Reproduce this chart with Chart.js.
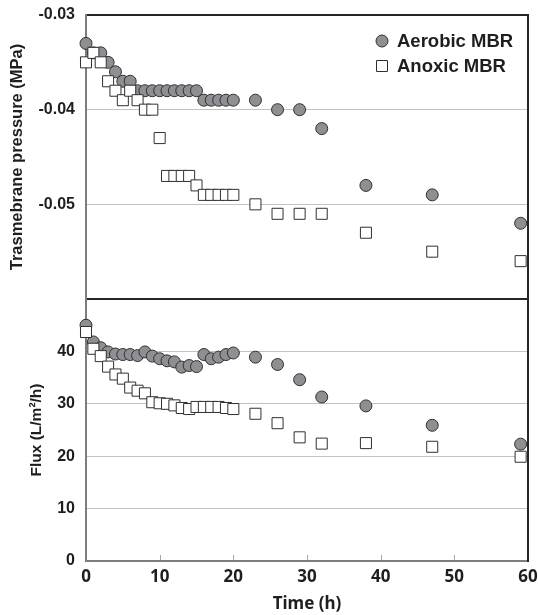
<!DOCTYPE html>
<html>
<head>
<meta charset="utf-8">
<script src="https://cdn.jsdelivr.net/npm/chart.js@4"></script>
<style>
  body { margin: 0; background: #fff; }
  #wrap { position: relative; width: 538px; height: 615px; }
  canvas { position: absolute; left: 0; }
  #tmp-chart { top: 0; }
  #flux-chart { top: 289px; }
</style>
</head>
<body>
<div id="wrap">
  <canvas id="tmp-chart" width="538" height="310"></canvas>
  <canvas id="flux-chart" width="538" height="326"></canvas>
</div>
<script>
const timeHours = [0, 1, 2, 3, 4, 5, 6, 7, 8, 9, 10, 11, 12, 13, 14, 15, 16, 17, 18, 19, 20, 23, 26, 29, 32, 38, 47, 59]

const aerobicTmp = [-0.033, -0.034, -0.034, -0.035, -0.036, -0.037, -0.037, -0.038, -0.038, -0.038,
    -0.038, -0.038, -0.038, -0.038, -0.038, -0.038, -0.039, -0.039, -0.039, -0.039,
    -0.039, -0.039, -0.040, -0.040, -0.042, -0.048, -0.049, -0.052]
const anoxicTmp = [-0.035, -0.034, -0.035, -0.037, -0.038, -0.039, -0.038, -0.039, -0.040, -0.040,
    -0.043, -0.047, -0.047, -0.047, -0.047, -0.048, -0.049, -0.049, -0.049, -0.049,
    -0.049, -0.050, -0.051, -0.051, -0.051, -0.053, -0.055, -0.056]

const aerobicFlux = [45.0, 41.8, 40.7, 39.9, 39.5, 39.4, 39.4, 39.2, 39.9, 39.1,
    38.6, 38.2, 38.0, 37.0, 37.3, 37.1, 39.4, 38.6, 38.9, 39.4,
    39.7, 38.9, 37.5, 34.6, 31.3, 29.6, 25.9, 22.3]
const anoxicFlux = [43.7, 40.5, 39.1, 37.1, 35.6, 34.8, 33.1, 32.5, 32.0, 30.3,
    30.1, 30.0, 29.7, 29.2, 29.0, 29.4, 29.4, 29.4, 29.4, 29.2,
    29.0, 28.1, 26.3, 23.6, 22.4, 22.5, 21.8, 19.9]

const seriesNames = ['Aerobic MBR', 'Anoxic MBR']
const tmpTicks = [-0.06, -0.05, -0.04, -0.03]
const fluxTicks = [0, 10, 20, 30, 40, 50]
const timeTicks = [0, 10, 20, 30, 40, 50, 60]

const gridGray = '#c3c3c3'
const axisGray = '#7d7d7d'
const frameBlack = '#262626'
const textColor = '#1e1e1e'
const clear = 'rgba(0,0,0,0)'

const toPoints = (ys) => timeHours.map((t, i) => ({ x: t, y: ys[i] }))

const aerobicStyle = {
    pointStyle: 'circle', pointRadius: 6, pointHoverRadius: 6,
    pointBackgroundColor: '#8e8e93', pointBorderColor: '#303030', pointBorderWidth: 1,
    showLine: false, clip: false, order: 2
}
const anoxicStyle = {
    pointStyle: 'rect', pointRadius: 7.8, pointHoverRadius: 7.8,
    pointBackgroundColor: '#ffffff', pointBorderColor: '#303030', pointBorderWidth: 1,
    showLine: false, clip: false, order: 1
}

// frame lines + small inner x ticks, drawn under the points
function framePlugin(sides, innerTicks) {
    return {
        id: 'frame',
        beforeDatasetsDraw(chart) {
            const { ctx, chartArea: a } = chart
            ctx.save()
            const line = (x1, y1, x2, y2, c) => {
                ctx.strokeStyle = c
                ctx.beginPath(); ctx.moveTo(x1, y1); ctx.lineTo(x2, y2); ctx.stroke()
            }
            if (innerTicks) {
                ctx.lineWidth = 1
                ctx.strokeStyle = '#a8a8a8'
                timeTicks.slice(1, -1).forEach(v => {
                    const x = Math.round(chart.scales.x.getPixelForValue(v)) + 0.5
                    ctx.beginPath(); ctx.moveTo(x, a.bottom); ctx.lineTo(x, a.bottom - 6); ctx.stroke()
                })
            }
            ctx.lineWidth = 2
            if (sides.top) line(a.left, a.top, a.right + 1, a.top, sides.top)
            if (sides.bottom) line(a.left, a.bottom, a.right + 1, a.bottom, sides.bottom)
            if (sides.right) line(a.right, a.top - 1, a.right, a.bottom + 1, sides.right)
            if (sides.left) line(a.left, a.top - 1, a.left, a.bottom + 1, sides.left)
            ctx.restore()
        }
    }
}

const legendPlugin = {
    id: 'cornerLegend',
    afterDatasetsDraw(chart) {
        const { ctx } = chart
        ctx.save()
        ctx.font = 'bold 18.5px "Liberation Sans", Arial, sans-serif'
        ctx.textBaseline = 'middle'
        const rows = [{ y: 41, ds: chart.data.datasets[0] }, { y: 66, ds: chart.data.datasets[1] }]
        rows.forEach(r => {
            ctx.fillStyle = r.ds.pointBackgroundColor
            ctx.strokeStyle = r.ds.pointBorderColor
            ctx.lineWidth = 1
            ctx.beginPath()
            if (r.ds.pointStyle === 'circle') ctx.arc(382, r.y, 6, 0, Math.PI * 2)
            else ctx.rect(376.5, r.y - 5.5, 11, 11)
            ctx.fill(); ctx.stroke()
            ctx.fillStyle = textColor
            ctx.fillText(r.ds.label, 397, r.y + 1)
        })
        ctx.restore()
    }
}

const sansBold = (size) => ({ family: '"Liberation Sans", Arial, sans-serif', size: size, weight: 'bold' })
const notoBold = (size) => ({ family: '"Noto Sans", sans-serif', size: size, weight: 'bold' })

function interiorGrid(lo, hi) {
    return ctx => (ctx.tick && ctx.tick.value > lo + 1e-9 && ctx.tick.value < hi - 1e-9) ? gridGray : clear
}

const baseOptions = {
    responsive: false,
    animation: false,
    devicePixelRatio: 1,
    plugins: { legend: { display: false }, tooltip: { enabled: false } },
    events: []
}

new Chart(document.getElementById('tmp-chart'), {
    type: 'scatter',
    data: {
        datasets: [
            { label: seriesNames[0], data: toPoints(aerobicTmp), ...aerobicStyle },
            { label: seriesNames[1], data: toPoints(anoxicTmp), ...anoxicStyle }
        ]
    },
    options: {
        ...baseOptions,
        layout: { padding: { left: 0, top: 15, right: 10, bottom: 11 } },
        scales: {
            x: { type: 'linear', min: 0, max: 60, display: false },
            y: {
                type: 'linear', min: tmpTicks[0], max: tmpTicks[tmpTicks.length - 1],
                afterBuildTicks: s => { s.ticks = tmpTicks.map(v => ({ value: v })) },
                afterFit: s => { s.width = 86 },
                border: { display: false },
                grid: { color: interiorGrid(-0.06, -0.03), drawTicks: true, tickLength: 11, tickColor: clear, lineWidth: 1 },
                ticks: {
                    padding: 0, font: sansBold(16), color: textColor,
                    callback: v => v < -0.055 ? '' : v.toFixed(2)
                },
                title: {
                    display: true, text: 'Trasmebrane pressure (MPa)', font: sansBold(16.5),
                    color: textColor, padding: { top: 8, bottom: 0 }
                }
            }
        }
    },
    plugins: [framePlugin({ top: frameBlack, right: frameBlack, bottom: frameBlack, left: axisGray }), legendPlugin]
});

new Chart(document.getElementById('flux-chart'), {
    type: 'scatter',
    data: {
        datasets: [
            { label: seriesNames[0], data: toPoints(aerobicFlux), ...aerobicStyle },
            { label: seriesNames[1], data: toPoints(anoxicFlux), ...anoxicStyle }
        ]
    },
    options: {
        ...baseOptions,
        layout: { padding: { left: 0, top: 10, right: 10, bottom: 0 } },
        scales: {
            x: {
                type: 'linear', min: 0, max: 60,
                afterBuildTicks: s => { s.ticks = timeTicks.map(v => ({ value: v })) },
                afterFit: s => { s.height = 54; s.paddingLeft = 0; s.paddingRight = 0 },
                border: { display: false },
                grid: { display: false, drawTicks: false },
                ticks: { padding: 6, maxRotation: 0, color: textColor, font: notoBold(17) },
                title: {
                    display: true, text: 'Time (h)', color: textColor, font: notoBold(17),
                    padding: { top: 0, bottom: 1 }
                }
            },
            y: {
                type: 'linear', min: 0, max: 50,
                afterBuildTicks: s => { s.ticks = fluxTicks.map(v => ({ value: v })) },
                afterFit: s => { s.width = 86 },
                border: { display: false },
                grid: { color: interiorGrid(0, 50), drawTicks: true, tickLength: 11, tickColor: clear, lineWidth: 1 },
                ticks: {
                    padding: 0, font: sansBold(16), color: textColor,
                    callback: v => v > 45 ? '' : v
                },
                title: {
                    display: true, text: 'Flux (L/m\u00b2/h)', font: sansBold(15.5),
                    color: textColor, padding: { top: 27, bottom: 0 }
                }
            }
        }
    },
    plugins: [framePlugin({ top: frameBlack, right: frameBlack, bottom: axisGray, left: axisGray }, true)]
});
</script>
</body>
</html>
